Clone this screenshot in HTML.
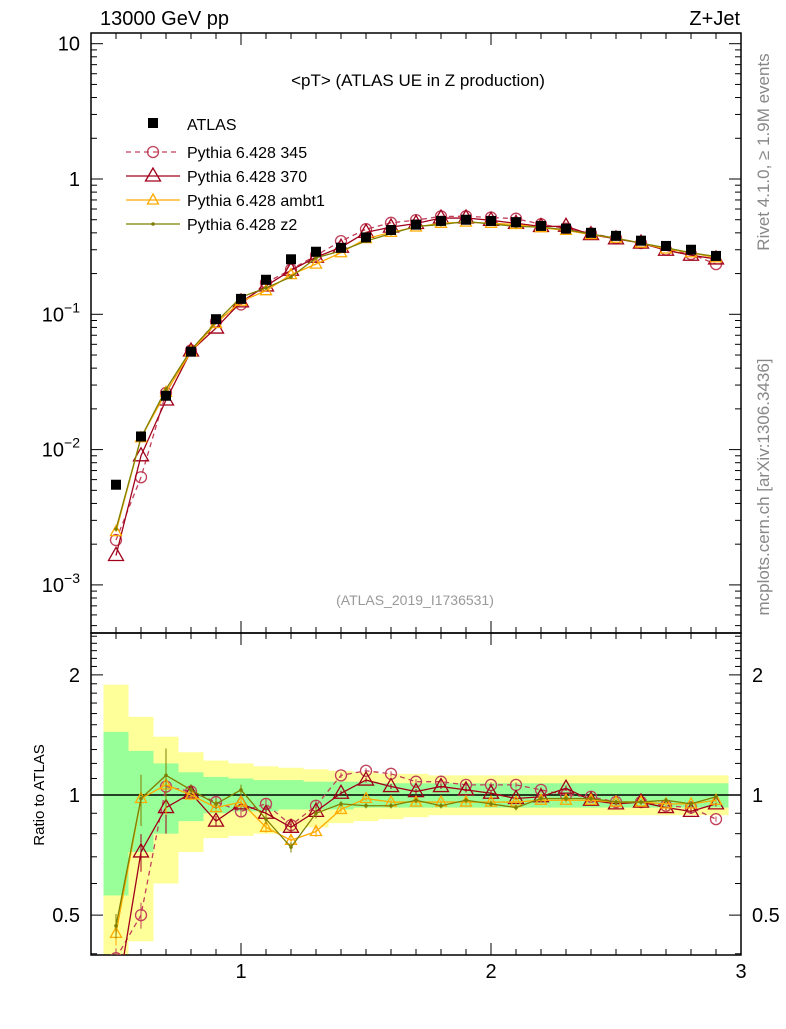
<!DOCTYPE html>
<html><head><meta charset="utf-8"><style>
body{margin:0;background:#fff;font-family:"Liberation Sans",sans-serif}
svg text{font-family:"Liberation Sans",sans-serif}
</style></head><body>
<svg id="c" width="786" height="1024" xmlns="http://www.w3.org/2000/svg"></svg>
<script>
const xs=[0.5,0.6,0.7,0.8,0.9,1.0,1.1,1.2,1.3,1.4,1.5,1.6,1.7,1.8,1.9,2.0,2.1,2.2,2.3,2.4,2.5,2.6,2.7,2.8,2.9];
const atlas=[0.0055,0.0125,0.025,0.053,0.092,0.13,0.18,0.255,0.29,0.31,0.37,0.42,0.46,0.49,0.5,0.49,0.48,0.45,0.43,0.4,0.38,0.35,0.32,0.3,0.27];
const r345=[0.39,0.5,1.05,1.02,0.96,0.91,0.95,0.84,0.94,1.12,1.15,1.13,1.08,1.08,1.06,1.06,1.06,1.03,1.0,0.99,0.96,0.96,0.94,0.93,0.87];
const r370=[0.3,0.72,0.93,1.01,0.86,0.95,0.9,0.83,0.91,1.01,1.09,1.05,1.02,1.05,1.03,1.01,0.98,0.99,1.04,0.97,0.95,0.96,0.93,0.91,0.95];
const rambt1=[0.45,0.98,1.06,1.0,0.93,0.96,0.83,0.77,0.81,0.92,0.98,0.96,0.96,0.96,0.96,0.96,0.96,0.97,0.97,0.97,0.96,0.96,0.95,0.95,0.97];
const rz2=[0.47,0.98,1.12,1.03,0.95,1.03,0.87,0.74,0.9,0.95,0.94,0.94,0.97,0.94,0.97,0.95,0.93,0.98,0.98,0.98,0.96,0.96,0.97,0.95,0.99];
const yelHi=[1.89,1.57,1.40,1.28,1.22,1.20,1.18,1.17,1.16,1.15,1.14,1.13,1.13,1.12,1.12,1.12,1.12,1.12,1.12,1.12,1.12,1.12,1.12,1.12,1.12];
const yelLo=[0.3,0.43,0.60,0.72,0.78,0.79,0.80,0.81,0.83,0.85,0.86,0.87,0.88,0.89,0.89,0.89,0.89,0.89,0.89,0.89,0.89,0.89,0.89,0.89,0.89];
const grnHi=[1.44,1.29,1.20,1.14,1.11,1.10,1.09,1.09,1.08,1.08,1.08,1.07,1.07,1.07,1.07,1.07,1.07,1.07,1.07,1.07,1.07,1.07,1.07,1.07,1.07];
const grnLo=[0.56,0.72,0.80,0.86,0.90,0.91,0.91,0.92,0.92,0.92,0.93,0.93,0.93,0.93,0.93,0.93,0.93,0.93,0.93,0.93,0.93,0.93,0.93,0.93,0.93];
const S="http://www.w3.org/2000/svg",svg=document.getElementById('c');
function el(t,a,p){const e=document.createElementNS(S,t);for(const k in a)e.setAttribute(k,a[k]);(p||svg).appendChild(e);return e;}
const X=v=>91+(v-0.4)*250;
const Y=v=>179-Math.log10(v)*135.3;
const R=v=>795-Math.log10(v)*399;
const defs=el('defs',{});
const c1=el('clipPath',{id:'cm'},defs);el('rect',{x:91,y:33,width:650,height:600},c1);
const c2=el('clipPath',{id:'cr'},defs);el('rect',{x:91,y:633,width:650,height:322},c2);
const gr=el('g',{'clip-path':'url(#cr)'});

xs.forEach((x,i)=>{
 const a=X(x-0.05),w=25;
 const y=el('rect',{x:a,y:R(yelHi[i]),width:w,height:R(yelLo[i])-R(yelHi[i]),fill:'#ffff99'},gr);
 
 const g=el('rect',{x:a,y:R(grnHi[i]),width:w,height:R(grnLo[i])-R(grnHi[i]),fill:'#99ff99'},gr);
 
});
el('line',{x1:91,x2:741,y1:R(1),y2:R(1),stroke:'#000','stroke-width':1.5});
const f1=el('rect',{x:91,y:33,width:650,height:600,fill:'none',stroke:'#000','stroke-width':1.5});

const f2=el('rect',{x:91,y:633,width:650,height:322,fill:'none',stroke:'#000','stroke-width':1.5});

for(let v=0.4;v<=3.0001;v+=0.1){
 const x=X(v),maj=Math.abs(v-Math.round(v))<1e-6,L=maj?12:6;
 [[33,1],[633,-1],[633,1],[955,-1]].forEach(([y,d])=>el('line',{x1:x,x2:x,y1:y,y2:y+d*L,stroke:'#000'}));
}
[1,2,3].forEach(v=>{const t=el('text',{x:X(v),y:978,'font-size':20,'text-anchor':'middle'});t.textContent=v;
 });
for(let d=-4;d<=1;d++)for(let m=1;m<10;m++){
 const v=m*Math.pow(10,d),y=Y(v);if(y<33||y>633)continue;const L=m==1?12:6;
 el('line',{x1:91,x2:91+L,y1:y,y2:y,stroke:'#000'});el('line',{x1:741,x2:741-L,y1:y,y2:y,stroke:'#000'});
}
const yl=[['10',1],['1',0],['10',-1],['10',-2],['10',-3]];
yl.forEach(([b,e])=>{const t=el('text',{x:80,y:Y(Math.pow(10,e))+7,'font-size':20,'text-anchor':'end'});
 
 if(e>=0)t.textContent=(e==1?'10':'1');else{t.textContent='10';const s=el('tspan',{dy:-9,'font-size':14},t);s.textContent='\u2212'+(-e);}});
for(let v=0.4;v<=2.5001;v+=0.1){const y=R(v);if(y<633||y>955)continue;
 const maj=[0.5,1,2].some(q=>Math.abs(q-v)<1e-6),L=maj?12:6;
 el('line',{x1:91,x2:91+L,y1:y,y2:y,stroke:'#000'});el('line',{x1:741,x2:741-L,y1:y,y2:y,stroke:'#000'});}
[[0.5,'0.5'],[1,'1'],[2,'2']].forEach(([v,s])=>{
 const a=el('text',{x:80,y:R(v)+7,'font-size':20,'text-anchor':'end'});a.textContent=s;
 
 const b=el('text',{x:752,y:R(v)+7,'font-size':20});b.textContent=s;
 });
const ser=[
 {r:r345,c:'#c0405a',dash:'5,4',m:'circle',n:'Pythia 6.428 345'},
 {r:r370,c:'#a0001a',dash:'',m:'tri',n:'Pythia 6.428 370'},
 {r:rambt1,c:'#ffaa00',dash:'',m:'trismall',n:'Pythia 6.428 ambt1'},
 {r:rz2,c:'#7f7f00',dash:'',m:'dot',n:'Pythia 6.428 z2'}];
function marker(g,m,x,y,c){
 if(m=='circle')el('circle',{cx:x,cy:y,r:5.5,fill:'none',stroke:c,'stroke-width':1.3},g);
 else if(m=='tri')el('polygon',{points:`${x},${y-8} ${x-7.5},${y+5} ${x+7.5},${y+5}`,fill:'none',stroke:c,'stroke-width':1.3},g);
 else if(m=='trismall')el('polygon',{points:`${x},${y-6} ${x-5.5},${y+4} ${x+5.5},${y+4}`,fill:'none',stroke:c,'stroke-width':1.3},g);
 else el('circle',{cx:x,cy:y,r:1.8,fill:c},g);
}
ser.forEach((s,k)=>{
 const gm=el('g',{'clip-path':'url(#cm)'});
 const pm=xs.map((x,i)=>X(x)+','+Y(atlas[i]*s.r[i])).join(' ');
 el('polyline',{points:pm,fill:'none',stroke:s.c,'stroke-width':1.3,'stroke-dasharray':s.dash},gm);
 xs.forEach((x,i)=>marker(gm,s.m,X(x),Y(atlas[i]*s.r[i]),s.c));
 const gq=el('g',{'clip-path':'url(#cr)'});
 el('polyline',{points:xs.map((x,i)=>X(x)+','+R(s.r[i])).join(' '),fill:'none',stroke:s.c,'stroke-width':1.3,'stroke-dasharray':s.dash},gq);
 xs.forEach((x,i)=>{const e=i<3?0.15*s.r[i]:(i<9?0.03:0.015);
  el('line',{x1:X(x),x2:X(x),y1:R(s.r[i]*(1+e)),y2:R(s.r[i]*(1-e)),stroke:s.c},gq);
  marker(gq,s.m,X(x),R(s.r[i]),s.c);});
});
const ga=el('g',{});
xs.forEach((x,i)=>el('rect',{x:X(x)-5,y:Y(atlas[i])-5,width:10,height:10,fill:'#000'},ga));
const lg=el('g',{});
el('rect',{x:148,y:118,width:10,height:10,fill:'#000'},lg);
let t=el('text',{x:187,y:130,'font-size':16},lg);t.textContent='ATLAS';
ser.forEach((s,k)=>{const y=152+k*24;
 el('line',{x1:126,x2:180,y1:y,y2:y,stroke:s.c,'stroke-width':1.3,'stroke-dasharray':s.dash},lg);
 marker(lg,s.m,153,y,s.c);
 const tt=el('text',{x:187,y:y+6,'font-size':16},lg);tt.textContent=s.n;});
function txt(x,y,s,sz,o,n){const e=el('text',Object.assign({x,y,'font-size':sz},o||{}));e.textContent=s;return e;}
txt(100,25,'13000 GeV pp',20,{},'energy-label');
txt(740,25,'Z+Jet',20,{'text-anchor':'end'},'process-label');
txt(418,86,'<pT> (ATLAS UE in Z production)',17,{'text-anchor':'middle'},'plot-title');
txt(415,605,'(ATLAS_2019_I1736531)',14,{'text-anchor':'middle',fill:'#999'},'analysis-id');
txt(0,0,'Ratio to ATLAS',15,{'text-anchor':'middle',transform:'translate(44,795) rotate(-90)'},'ratio-y-axis-title');
txt(0,0,'Rivet 4.1.0, \u2265 1.9M events',17,{'text-anchor':'middle',fill:'#888',transform:'translate(769,152) rotate(-90)'},'rivet-version-label');
txt(0,0,'mcplots.cern.ch [arXiv:1306.3436]',17,{'text-anchor':'middle',fill:'#888',transform:'translate(769,487) rotate(-90)'},'mcplots-label');
</script>
</body></html>
